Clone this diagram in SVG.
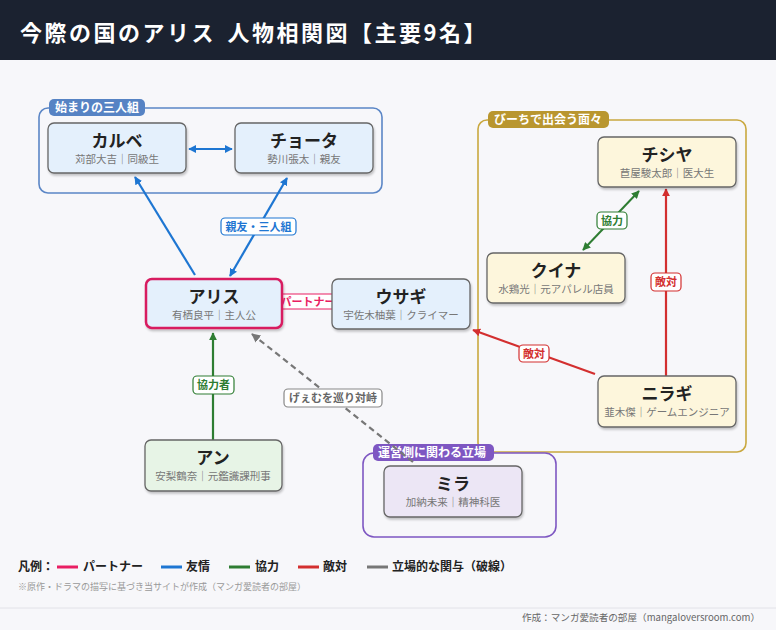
<svg xmlns="http://www.w3.org/2000/svg" width="776" height="630" viewBox="0 0 776 630">
<defs>
<style>
text{font-family:"Noto Sans CJK JP","Noto Sans",sans-serif;}
.title{font-size:22px;font-weight:bold;fill:#ffffff;letter-spacing:2.5px;word-spacing:4px;}
.node rect{stroke:#666;stroke-width:1.3;filter:url(#sh);}
.nm{font-size:17px;font-weight:bold;fill:#222;text-anchor:middle;}
.sub{font-size:10.5px;fill:#777;text-anchor:middle;}
.glabel{font-size:12px;font-weight:bold;fill:#fff;}
.clab{font-size:11px;font-weight:bold;text-anchor:middle;}
.pill{fill:#fff;stroke-width:1.2;}
.lg{font-size:12px;font-weight:bold;fill:#222;}
.blue{fill:#e4f0fc;}
.gold{fill:#fdf6dc;}
.green{fill:#e7f4e6;}
.purple{fill:#ece6f5;}
</style>
<filter id="sh" x="-10%" y="-10%" width="125%" height="135%">
<feDropShadow dx="1" dy="2" stdDeviation="1.2" flood-color="#000" flood-opacity="0.22"/>
</filter>
<marker id="mb" viewBox="0 0 10 10" refX="9" refY="5" markerWidth="8" markerHeight="8" markerUnits="userSpaceOnUse" orient="auto-start-reverse"><path d="M0,0 L10,5 L0,10 z" fill="#1e76d2"/></marker>
<marker id="mg" viewBox="0 0 10 10" refX="9" refY="5" markerWidth="8" markerHeight="8" markerUnits="userSpaceOnUse" orient="auto-start-reverse"><path d="M0,0 L10,5 L0,10 z" fill="#2e7d32"/></marker>
<marker id="mr" viewBox="0 0 10 10" refX="9" refY="5" markerWidth="8" markerHeight="8" markerUnits="userSpaceOnUse" orient="auto-start-reverse"><path d="M0,0 L10,5 L0,10 z" fill="#d32f2f"/></marker>
<marker id="mx" viewBox="0 0 10 10" refX="9" refY="5" markerWidth="9" markerHeight="9" markerUnits="userSpaceOnUse" orient="auto-start-reverse"><path d="M0,0 L10,5 L0,10 z" fill="#777"/></marker>
</defs>

<rect x="0" y="0" width="776" height="630" fill="#f7f7fa"/>
<rect x="0" y="0" width="776" height="60" fill="#1b2230"/>
<text class="title" x="20" y="41">今際の国のアリス 人物相関図【主要9名】</text>

<!-- groups -->
<g id="group-start">
<rect x="39" y="108" width="343" height="85" rx="9" fill="none" stroke="#5b86c6" stroke-width="1.6"/>
<rect x="49" y="99" width="96" height="17" rx="5" fill="#5683c4"/>
<text class="glabel" x="55" y="112">始まりの三人組</text>
</g>
<g id="group-beach">
<rect x="478" y="120" width="268" height="332" rx="9" fill="none" stroke="#c9a83f" stroke-width="1.6"/>
<rect x="488" y="111" width="121" height="17" rx="5" fill="#b9962f"/>
<text class="glabel" x="494" y="124">びーちで出会う面々</text>
</g>
<g id="group-unei">
<rect x="363" y="453" width="193" height="84" rx="11" fill="none" stroke="#7e57c2" stroke-width="1.6"/>
<rect x="373" y="444" width="121" height="17" rx="5" fill="#7e57c2"/>
<text class="glabel" x="378" y="457">運営側に関わる立場</text>
</g>

<!-- connectors -->
<g id="connectors">
<g id="c-partner">
<line x1="282" y1="301" x2="332" y2="301" stroke="#e91e63" stroke-width="2.5"/>
<rect class="pill" x="273" y="294" width="70" height="15" rx="3" stroke="#e91e63"/>
<text class="clab" x="308" y="306" fill="#e91e63">パートナー</text>
</g>
<line x1="189" y1="149" x2="232" y2="149" stroke="#1e76d2" stroke-width="2" marker-start="url(#mb)" marker-end="url(#mb)"/>
<line x1="195" y1="275" x2="135" y2="177" stroke="#1e76d2" stroke-width="2.2" marker-end="url(#mb)"/>
<line x1="230" y1="276" x2="287" y2="178" stroke="#1e76d2" stroke-width="2.2" marker-start="url(#mb)" marker-end="url(#mb)"/>
<rect class="pill" x="221" y="218" width="75" height="17" rx="4" stroke="#1e76d2"/>
<text class="clab" x="258.5" y="230.5" fill="#1e76d2">親友・三人組</text>

<line x1="583" y1="250" x2="639" y2="191" stroke="#2e7d32" stroke-width="2" marker-start="url(#mg)" marker-end="url(#mg)"/>
<rect class="pill" x="597" y="212" width="30" height="17" rx="4" stroke="#2e7d32"/>
<text class="clab" x="612" y="224.5" fill="#2e7d32">協力</text>

<line x1="666" y1="376" x2="666" y2="189" stroke="#d32f2f" stroke-width="2.2" marker-end="url(#mr)"/>
<rect class="pill" x="651" y="273" width="30" height="18" rx="4" stroke="#d32f2f"/>
<text class="clab" x="666" y="286" fill="#d32f2f">敵対</text>

<line x1="595" y1="374" x2="473" y2="330" stroke="#d32f2f" stroke-width="2.2" marker-end="url(#mr)"/>
<rect class="pill" x="519" y="345" width="30" height="17" rx="4" stroke="#d32f2f"/>
<text class="clab" x="534" y="358" fill="#d32f2f">敵対</text>

<line x1="213" y1="440" x2="213" y2="333" stroke="#2e7d32" stroke-width="2.2" marker-end="url(#mg)"/>
<rect class="pill" x="193" y="376" width="41" height="18" rx="4" stroke="#2e7d32"/>
<text class="clab" x="213.5" y="389" fill="#2e7d32">協力者</text>

<line x1="413" y1="462" x2="252" y2="334" stroke="#777" stroke-width="2.2" stroke-dasharray="6,4" marker-end="url(#mx)"/>
<rect class="pill" x="284" y="389" width="98" height="18" rx="4" stroke="#888"/>
<text class="clab" x="333" y="402" fill="#666">げぇむを巡り対峙</text>
</g>

<!-- nodes -->
<g id="n-karube" class="node">
<rect class="blue" x="48" y="123" width="138" height="50" rx="6"/>
<text class="nm" x="117" y="147">カルベ</text>
<text class="sub" x="117" y="163">苅部大吉｜同級生</text>
</g>
<g id="n-chota" class="node">
<rect class="blue" x="235" y="123" width="138" height="50" rx="6"/>
<text class="nm" x="304" y="147">チョータ</text>
<text class="sub" x="304" y="163">勢川張太｜親友</text>
</g>
<g id="n-alice" class="node">
<rect class="blue" x="146" y="279" width="136" height="49" rx="6" style="stroke:#d81b60;stroke-width:2.5"/>
<text class="nm" x="214" y="303">アリス</text>
<text class="sub" x="214" y="319">有栖良平｜主人公</text>
</g>
<g id="n-usagi" class="node">
<rect class="blue" x="332" y="279" width="138" height="50" rx="6"/>
<text class="nm" x="401" y="303">ウサギ</text>
<text class="sub" x="401" y="319">宇佐木柚葉｜クライマー</text>
</g>
<g id="n-chishiya" class="node">
<rect class="gold" x="598" y="137" width="138" height="50" rx="6"/>
<text class="nm" x="667" y="161">チシヤ</text>
<text class="sub" x="667" y="177">苣屋駿太郎｜医大生</text>
</g>
<g id="n-kuina" class="node">
<rect class="gold" x="487" y="253" width="138" height="50" rx="6"/>
<text class="nm" x="556" y="277">クイナ</text>
<text class="sub" x="556" y="293">水鶏光｜元アパレル店員</text>
</g>
<g id="n-niragi" class="node">
<rect class="gold" x="598" y="376" width="138" height="51" rx="6"/>
<text class="nm" x="667" y="400">ニラギ</text>
<text class="sub" x="667" y="416">韮木傑｜ゲームエンジニア</text>
</g>
<g id="n-an" class="node">
<rect class="green" x="145" y="440" width="137" height="51" rx="6"/>
<text class="nm" x="213" y="464">アン</text>
<text class="sub" x="213" y="480">安梨鶴奈｜元鑑識課刑事</text>
</g>
<g id="n-mira" class="node">
<rect class="purple" x="384" y="466" width="138" height="51" rx="6"/>
<text class="nm" x="453" y="490">ミラ</text>
<text class="sub" x="453" y="506">加納未来｜精神科医</text>
</g>

<!-- legend -->
<g id="legend">
<text class="lg" x="18" y="571">凡例：</text>
<line x1="57" y1="567" x2="78" y2="567" stroke="#e91e63" stroke-width="3"/>
<text class="lg" x="83" y="571">パートナー</text>
<line x1="161" y1="567" x2="182" y2="567" stroke="#1e76d2" stroke-width="3"/>
<text class="lg" x="186" y="571">友情</text>
<line x1="229" y1="567" x2="250" y2="567" stroke="#2e7d32" stroke-width="3"/>
<text class="lg" x="255" y="571">協力</text>
<line x1="298" y1="567" x2="319" y2="567" stroke="#d32f2f" stroke-width="3"/>
<text class="lg" x="323" y="571">敵対</text>
<line x1="367" y1="567" x2="388" y2="567" stroke="#777" stroke-width="3"/>
<text class="lg" x="392" y="571">立場的な関与（破線）</text>
<text x="18" y="590" font-size="9" fill="#999">※原作・ドラマの描写に基づき当サイトが作成（マンガ愛読者の部屋）</text>
</g>

<line x1="0" y1="608" x2="776" y2="608" stroke="#e2e2e8" stroke-width="1"/>
<text x="760" y="621" font-size="9.6" fill="#666" text-anchor="end">作成：マンガ愛読者の部屋（mangaloversroom.com）</text>
</svg>
